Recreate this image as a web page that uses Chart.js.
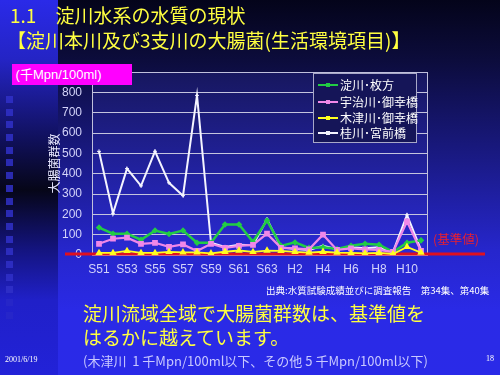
<!DOCTYPE html>
<html lang="ja">
<head>
<meta charset="utf-8">
<script src="https://cdn.jsdelivr.net/npm/chart.js@4"></script>
<style>
html, body { margin: 0; padding: 0; }
body {
  width: 500px; height: 375px; position: relative; overflow: hidden;
  background: linear-gradient(to bottom, #04041a 0px, #0c0c3c 60px, #1a1a86 160px, #2626cc 250px, #2a2ae6 310px, #2a2ae8 375px);
  font-family: 'Noto Sans CJK JP', sans-serif;
}
#strip {
  position: absolute; left: 0; top: 0; width: 58px; height: 375px;
  background: linear-gradient(to bottom, #2a2ae8 0px, #2424c4 60px, #10105a 140px, #060618 190px, #141480 250px, #2020c8 300px, #2222d8 375px);
}
.sq { position: absolute; left: 6px; width: 7px; height: 7px; background: #3030c8; }
#chartWrap { position: absolute; left: 0; top: 0; width: 500px; height: 375px; }
.txt { position: absolute; white-space: nowrap; }
#title1, #title2 { color: #ffff40; font-size: 19px; line-height: 22px; }
#unit {
  left: 12px; top: 64px; width: 120px; height: 21px; background: #ff00ff;
  color: #fff; font-size: 13px; line-height: 21px; font-family: 'Liberation Sans', 'Noto Sans CJK JP', sans-serif;
}
#legend {
  position: absolute; left: 313px; top: 73px; width: 102px; height: 68px;
  border: 1px solid #a8a8c8; background: #151558;
}
.lgRow { position: absolute; left: 4px; height: 16px; color: #fff; font-size: 12px; line-height: 16px; }
.lgLine { position: absolute; left: 0; top: 7px; width: 20px; height: 2px; }
.lgMark { position: absolute; left: 8px; top: 6px; width: 4px; height: 4px; }
.lgText { position: absolute; left: 22px; top: 0; white-space: nowrap; }
#kijun { left: 433px; top: 231px; color: #e82030; font-size: 12.5px; line-height: 16px; }
#source { left: 266px; top: 284px; color: #fff; font-size: 9.5px; line-height: 12px; }
#msg { left: 83px; top: 301px; color: #ffff40; font-size: 19px; line-height: 24px; }
#note { left: 83px; top: 352px; color: #c8c8ff; font-size: 13px; line-height: 18px; }
#date { left: 5px; top: 355px; color: #fff; font-size: 8px; font-family: 'Liberation Serif', serif; }
#page { left: 486px; top: 354px; color: #fff; font-size: 8px; font-family: 'Liberation Serif', serif; }
</style>
</head>
<body>
<div id="strip"></div>
<div id="chartWrap"><canvas id="waterChart" width="500" height="375"></canvas></div>
<div class="txt" id="title1" style="left:10px;top:4px;">1.1<span style="display:inline-block;width:19px"></span>淀川水系の水質の現状</div>
<div class="txt" id="title2" style="left:7px;top:29px;">【淀川本川及び3支川の大腸菌(生活環境項目)】</div>
<div class="txt" id="unit">&nbsp;(千Mpn/100ml)</div>
<div id="legend"></div>
<div class="txt" id="kijun">(基準値)</div>
<div class="txt" id="source">出典:水質試験成績並びに調査報告　第34集、第40集</div>
<div class="txt" id="msg">淀川流域全域で大腸菌群数は、基準値を<br>はるかに越えています。</div>
<div class="txt" id="note">(木津川&nbsp; 1 千Mpn/100ml以下、その他 5 千Mpn/100ml以下)</div>
<div class="txt" id="date">2001/6/19</div>
<div class="txt" id="page">18</div>
<script>
"use strict";

const categories = ['S51', 'S52', 'S53', 'S54', 'S55', 'S56', 'S57', 'S58', 'S59', 'S60', 'S61', 'S62', 'S63',
  'H1', 'H2', 'H3', 'H4', 'H5', 'H6', 'H7', 'H8', 'H9', 'H10', 'H11'];
const seriesNames = ['淀川･枚方', '宇治川･御幸橋', '木津川･御幸橋', '桂川･宮前橋'];
const hirakata = [135, 105, 105, 75, 120, 103, 120, 60, 60, 150, 150, 65, 170, 45, 62, 35, 38, 30, 45, 55, 50, 15, 60, 72];
const ujigawa = [55, 80, 85, 55, 60, 40, 52, 20, 55, 35, 45, 50, 105, 35, 33, 28, 100, 25, 33, 28, 25, 15, 165, 20];
const kizugawa = [10, 10, 20, 10, 10, 15, 13, 13, 8, 16, 22, 15, 22, 20, 15, 12, 16, 12, 10, 8, 10, 5, 40, 12];
const katsuragawa = [510, 205, 425, 340, 510, 355, 292, 785, 60, 40, 50, 48, 176, 38, 30, 25, 45, 28, 38, 33, 38, 15, 197, 25];
const yTicks = [0, 100, 200, 300, 400, 500, 600, 700, 800, 900];
const kijunValue = 5;

// decorative squares on the left strip
for (let y = 96; y < 320; y += 12.7) {
  const d = document.createElement('div');
  d.className = 'sq';
  d.style.top = Math.round(y) + 'px';
  d.style.opacity = y > 290 ? 0.4 : 0.85;
  document.body.appendChild(d);
}

const tickFont = { family: "'Liberation Sans', 'Noto Sans CJK JP', sans-serif", size: 12 };

const plotDeco = {
  id: 'plotDeco',
  beforeDraw(chart) {
    const ctx = chart.ctx;
    const a = chart.chartArea;
    const g = ctx.createLinearGradient(0, a.top, 0, a.bottom);
    g.addColorStop(0, '#17175e');
    g.addColorStop(1, '#2a2ad6');
    ctx.save();
    ctx.fillStyle = g;
    ctx.fillRect(a.left, a.top, a.right - a.left, a.bottom - a.top);
    ctx.restore();
  },
  beforeDatasetsDraw(chart) {
    const ctx = chart.ctx;
    const a = chart.chartArea;
    ctx.save();
    ctx.strokeStyle = '#c0c0dc';
    ctx.lineWidth = 1;
    ctx.strokeRect(a.left + 0.5, a.top + 0.5, a.right - a.left - 1, a.bottom - a.top);
    // red 基準値 line
    const y = chart.scales.y.getPixelForValue(kijunValue);
    ctx.strokeStyle = '#e01020';
    ctx.lineWidth = 3;
    ctx.beginPath();
    ctx.moveTo(65, y);
    ctx.lineTo(485, y);
    ctx.stroke();
    ctx.restore();
  }
};

const chart = new Chart(document.getElementById('waterChart'), {
  type: 'line',
  data: {
    labels: categories,
    datasets: [
      { label: seriesNames[0], data: hirakata, borderColor: '#22cc44', backgroundColor: '#22cc44',
        pointStyle: 'rectRot', pointRadius: 1.5, borderWidth: 2.5, order: 3 },
      { label: seriesNames[1], data: ujigawa, borderColor: '#f088e8', backgroundColor: '#f088e8',
        pointStyle: 'rect', pointRadius: 2.5, borderWidth: 2.2, order: 2 },
      { label: seriesNames[2], data: kizugawa, borderColor: '#ffff20', backgroundColor: '#ffff20',
        pointStyle: 'triangle', pointRadius: 2.5, borderWidth: 1.8, order: 1 },
      { label: seriesNames[3], data: katsuragawa, borderColor: '#f4f4ff', backgroundColor: '#f4f4ff',
        pointStyle: 'cross', pointRadius: 2, pointBorderWidth: 1, borderWidth: 2, order: 4 }
    ]
  },
  options: {
    responsive: false,
    animation: false,
    layout: { padding: { left: 43, top: 72, right: 72, bottom: 0 } },
    plugins: { legend: { display: false }, tooltip: { enabled: false } },
    scales: {
      x: {
        offset: true,
        grid: { display: false, drawTicks: false },
        border: { display: false },
        ticks: {
          color: '#d4d4fa', font: tickFont, padding: 7, autoSkip: false, maxRotation: 0,
          callback: function (val, i) { return i % 2 === 0 ? this.getLabelForValue(val) : ''; }
        },
        afterFit: function (scale) { scale.height = 120; }
      },
      y: {
        min: 0, max: 900,
        afterBuildTicks: function (scale) { scale.ticks = yTicks.map(v => ({ value: v })); },
        grid: { color: '#c4c4de', lineWidth: 1, drawTicks: false },
        border: { display: false },
        ticks: { color: '#d4d4fa', font: tickFont, padding: 10 },
        title: { display: true, text: '大腸菌群数', color: '#e8e8ff',
          font: { family: "'Noto Sans CJK JP', sans-serif", size: 12 }, padding: 4 },
        afterFit: function (scale) { scale.width = 49; }
      }
    }
  },
  plugins: [plotDeco]
});

// legend box built from the datasets
const legend = document.getElementById('legend');
const rowTops = [3, 20, 36, 51];
chart.data.datasets.forEach(function (ds, i) {
  const row = document.createElement('div');
  row.className = 'lgRow';
  row.style.top = rowTops[i] + 'px';
  row.innerHTML = '<div class="lgLine" style="background:' + ds.borderColor + '"></div>' +
    '<div class="lgMark" style="background:' + ds.borderColor + '"></div>' +
    '<span class="lgText">' + ds.label + '</span>';
  legend.appendChild(row);
});
</script>
</body>
</html>
